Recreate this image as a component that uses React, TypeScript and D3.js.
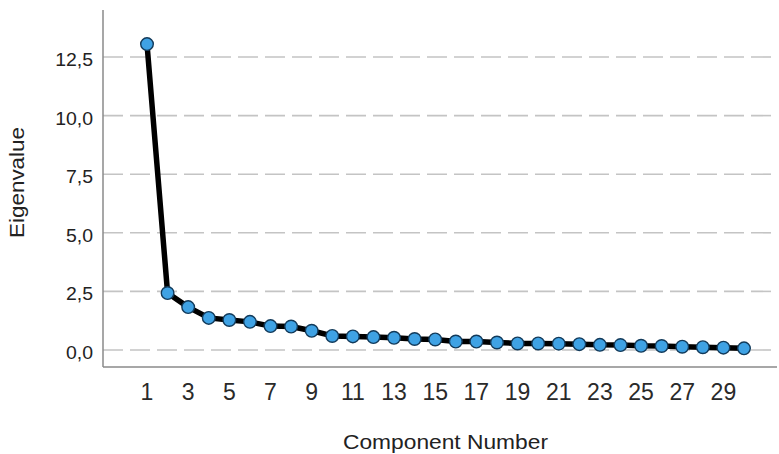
import React, { useEffect, useRef } from 'react';
import * as d3 from 'd3';

const components = d3.range(1, 31);
const eigenvalues = [
  13.05, 2.43, 1.83, 1.37, 1.28, 1.2, 1.02, 1.0, 0.82, 0.6,
  0.58, 0.55, 0.52, 0.47, 0.45, 0.36, 0.36, 0.32, 0.28, 0.28,
  0.27, 0.25, 0.22, 0.21, 0.18, 0.17, 0.14, 0.12, 0.1, 0.07,
];
const yTicks = [0, 2.5, 5, 7.5, 10, 12.5];
const xTicks = d3.range(1, 30, 2);

const Chart = () => {
  const ref = useRef<SVGSVGElement>(null);

  useEffect(() => {
    const svg = d3.select(ref.current);
    svg.selectAll('*').remove();

    const width = 779;
    const height = 454;
    const left = 103;
    const right = 777;
    const top = 10;
    const bottom = 367;

    // component 1 sits at x=147, component 30 at x=744
    const step = (744 - 147) / 29;
    const x = d3
      .scaleLinear()
      .domain([1 - (147 - left) / step, 1 + (right - 147) / step])
      .range([left, right]);

    const y = d3.scaleLinear().domain([0, 12.5]).range([350, 57]);

    const font = 'Arial, "Liberation Sans", sans-serif';

    // grid
    svg
      .append('g')
      .selectAll('line')
      .data(yTicks)
      .enter()
      .append('line')
      .attr('x1', left)
      .attr('x2', right)
      .attr('y1', (d) => y(d))
      .attr('y2', (d) => y(d))
      .attr('stroke', '#c4c4c4')
      .attr('stroke-width', 1.6)
      .attr('stroke-dasharray', '20 7');

    // y tick labels
    const yLabels = svg
      .append('g')
      .selectAll('text')
      .data(yTicks)
      .enter()
      .append('text')
      .attr('x', 93)
      .attr('y', (d) => y(d) + 9)
      .attr('text-anchor', 'end')
      .attr('font-family', font)
      .attr('font-size', 18)
      .attr('fill', '#222')
      .text((d) => d3.format('.1f')(d).replace('.', ','));
    yLabels.each(function () {
      const t = this as SVGTextElement;
      const w = t.getComputedTextLength();
      t.setAttribute('textLength', String(w * 1.08));
      t.setAttribute('lengthAdjust', 'spacingAndGlyphs');
    });

    // x tick labels
    svg
      .append('g')
      .selectAll('text')
      .data(xTicks)
      .enter()
      .append('text')
      .attr('x', (d) => x(d))
      .attr('y', 400)
      .attr('text-anchor', 'middle')
      .attr('font-family', font)
      .attr('font-size', 23)
      .attr('fill', '#2a2a2a')
      .text((d) => String(d));

    // axis lines
    svg
      .append('line')
      .attr('x1', left)
      .attr('x2', left)
      .attr('y1', top)
      .attr('y2', bottom)
      .attr('stroke', '#8a8a8a')
      .attr('stroke-width', 1.5);
    svg
      .append('line')
      .attr('x1', left)
      .attr('x2', right)
      .attr('y1', bottom)
      .attr('y2', bottom)
      .attr('stroke', '#8a8a8a')
      .attr('stroke-width', 1.5);

    // line
    const line = d3
      .line<number>()
      .x((d, i) => x(components[i]))
      .y((d) => y(d));

    svg
      .append('path')
      .datum(eigenvalues)
      .attr('d', line)
      .attr('fill', 'none')
      .attr('stroke', '#000')
      .attr('stroke-width', 5.5)
      .attr('stroke-linejoin', 'round');

    svg
      .append('g')
      .selectAll('circle')
      .data(eigenvalues)
      .enter()
      .append('circle')
      .attr('cx', (d, i) => x(components[i]))
      .attr('cy', (d) => y(d))
      .attr('r', 6.3)
      .attr('fill', '#3fa2e4')
      .attr('stroke', '#123a5a')
      .attr('stroke-width', 1.4);

    // axis titles
    svg
      .append('text')
      .attr('x', 445.5)
      .attr('y', 449)
      .attr('text-anchor', 'middle')
      .attr('font-family', font)
      .attr('font-size', 19.5)
      .attr('fill', '#222')
      .attr('textLength', 205)
      .attr('lengthAdjust', 'spacingAndGlyphs')
      .text('Component Number');

    svg
      .append('text')
      .attr('transform', `translate(24,182.5) rotate(-90)`)
      .attr('text-anchor', 'middle')
      .attr('font-family', font)
      .attr('font-size', 19.5)
      .attr('fill', '#222')
      .attr('textLength', 111)
      .attr('lengthAdjust', 'spacingAndGlyphs')
      .text('Eigenvalue');

    svg.attr('width', width).attr('height', height);
  }, []);

  return (
    <svg
      ref={ref}
      style={{ display: 'block', position: 'fixed', top: 0, left: 0, background: '#fff' }}
    />
  );
};

export default function App() {
  return <Chart />;
}
